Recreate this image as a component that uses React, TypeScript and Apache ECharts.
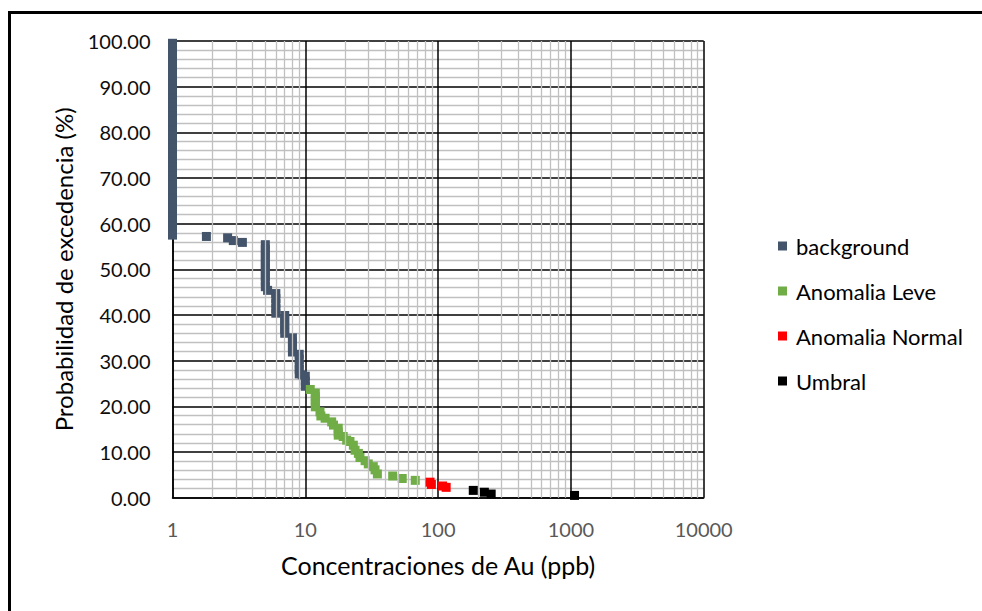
import React, { useEffect, useRef } from "react";
import * as echarts from "echarts";

// ---- data ----
const seriesNames = ["background", "Anomalia Leve", "Anomalia Normal", "Umbral"];
const seriesColors = ["#44546A", "#70AD47", "#FF0000", "#000000"];

// background: [Au ppb, exceedance %]
const backgroundX1 = [
  99.5, 98.5, 97.5, 96.5, 95.5, 94.5, 93.5, 92.5, 91.5, 90.5, 89.5, 88.5, 87.5, 86.5, 85.5,
  84.5, 83.5, 82.5, 81.5, 80.5, 79.5, 78.5, 77.5, 76.5, 75.5, 74.5, 73.5, 72.5, 71.5, 70.5,
  69.5, 68.5, 67.5, 66.5, 65.5, 64.5, 63.5, 62.5, 61.5, 60.5, 59.5, 58.5, 57.5,
];
const backgroundRest: [number, number][] = [
  [1.8, 57.2], [2.6, 56.9], [2.87, 56.3], [3.36, 55.9],
  [5, 55.4], [5, 54.4], [5, 53.4], [5, 52.4], [5, 51.4], [5, 50.4], [5, 49.4], [5, 48.4],
  [5, 47.4], [5, 46.2], [5.2, 45.4],
  [6, 44.7], [6, 43.6], [6, 42.5], [6, 41.4], [6, 40.4],
  [7, 39.9], [7, 38.9], [7, 37.9], [7, 36.9], [7, 36.0],
  [8, 35.0], [8, 34.0], [8, 33.0], [8, 31.9],
  [9, 31.4], [9, 30.3], [9, 29.2], [9, 28.1], [9, 27.1],
  [9.5, 26.9], [10, 26.6], [10, 25.5], [10, 24.4],
];
const anomaliaLeve: [number, number][] = [
  [10.9, 23.7], [11.9, 22.9], [11.9, 22.1], [11.9, 21.4], [11.9, 20.6], [11.9, 19.9],
  [12.9, 18.8], [13.1, 17.9], [14.1, 17.4], [15.8, 16.6], [16.3, 15.9], [17.7, 15.2],
  [17.7, 14.4], [17.7, 13.7], [19.3, 13.4], [20.5, 12.6], [21.7, 12.3], [23, 11.5],
  [23.7, 10.4], [25.1, 9.7], [25.8, 8.8], [28.2, 8.1], [29.8, 7.4], [32.5, 6.8],
  [33.5, 6.1], [34.9, 5.2], [45.5, 4.75], [53.7, 4.2], [67.3, 3.8],
];
const anomaliaNormal: [number, number][] = [
  [87, 3.4], [89, 2.9], [108, 2.56], [115, 2.27],
];
const umbral: [number, number][] = [
  [184, 1.6], [223, 1.2], [251, 0.8], [1065, 0.5],
];

const xTicks = [1, 10, 100, 1000, 10000];

const FONT = "Lato, 'Open Sans', sans-serif";

export default function App() {
  const ref = useRef<HTMLDivElement>(null);
  useEffect(() => {
    document.body.style.margin = "0";
    const chart = echarts.init(ref.current!, undefined, { renderer: "svg" });

    const minorX: number[] = [];
    for (let d = 0; d < xTicks.length - 1; d++) {
      for (let m = 2; m <= 9; m++) minorX.push(xTicks[d] * m);
    }

    const bgData: [number, number][] = [
      ...backgroundX1.map((y) => [1, y] as [number, number]),
      ...backgroundRest,
    ];
    const allData = [bgData, anomaliaLeve, anomaliaNormal, umbral];

    chart.setOption({
      animation: false,
      backgroundColor: "#ffffff",
      textStyle: { fontFamily: FONT },
      grid: { left: 172.5, top: 41, right: 278.3, bottom: 113.3, containLabel: false },
      legend: {
        orient: "vertical",
        left: 778,
        top: 235,
        padding: 0,
        itemWidth: 9,
        itemHeight: 9,
        itemGap: 23,
        icon: "rect",
        data: seriesNames,
        textStyle: { fontSize: 22, color: "#000", fontFamily: FONT, lineHeight: 22, padding: [0, 0, 0, 4] },
      },
      xAxis: {
        type: "log",
        logBase: 10,
        min: 1,
        max: 10000,
        name: "Concentraciones de Au (ppb)",
        nameLocation: "middle",
        nameGap: 55,
        nameTextStyle: { fontSize: 25, color: "#000", fontFamily: FONT },
        axisLine: { show: true, lineStyle: { color: "#000", width: 1.5 } },
        axisTick: { show: false },
        axisLabel: {
          fontSize: 20,
          color: "#595959",
          margin: 21,
          fontFamily: FONT,
          formatter: (v: number) => String(Math.round(v)),
        },
        splitLine: { show: true, lineStyle: { color: "#000", width: 1.5 } },
      },
      yAxis: {
        type: "value",
        min: 0,
        max: 100,
        interval: 10,
        name: "Probabilidad de excedencia (%)",
        nameLocation: "middle",
        nameGap: 97,
        nameTextStyle: { fontSize: 24, color: "#000", fontFamily: FONT },
        axisLine: { show: true, lineStyle: { color: "#000", width: 1.5 } },
        axisTick: { show: false },
        axisLabel: {
          fontSize: 20,
          color: "#0d0d0d",
          margin: 22,
          fontFamily: FONT,
          formatter: (v: number) => v.toFixed(2),
        },
        splitLine: { show: true, lineStyle: { color: "#000", width: 1.5 } },
        minorTick: { show: false, splitNumber: 5 },
        minorSplitLine: { show: true, lineStyle: { color: "#C0C0C0", width: 1.3 } },
      },
      graphic: [
        { type: "line", shape: { x1: 8, y1: 12.5, x2: 982, y2: 12.5 }, style: { stroke: "#000", lineWidth: 3 } },
        { type: "line", shape: { x1: 9.5, y1: 11, x2: 9.5, y2: 611 }, style: { stroke: "#000", lineWidth: 3 } },
      ],
      series: [
        {
          name: "__minorx",
          type: "scatter",
          data: [],
          z: -1,
          silent: true,
          markLine: {
            silent: true,
            symbol: "none",
            label: { show: false },
            lineStyle: { color: "#C0C0C0", width: 1.3, type: "solid" },
            data: minorX.map((v) => ({ xAxis: v })),
          },
        },
        ...seriesNames.map((name, i) => ({
          name,
          type: "scatter",
          symbol: "rect",
          symbolSize: 9,
          itemStyle: { color: seriesColors[i], opacity: 1 },
          data: allData[i],
          z: 3 + i,
        })),
      ],
    });
    return () => chart.dispose();
  }, []);
  return <div ref={ref} style={{ width: 982, height: 611 }} />;
}
